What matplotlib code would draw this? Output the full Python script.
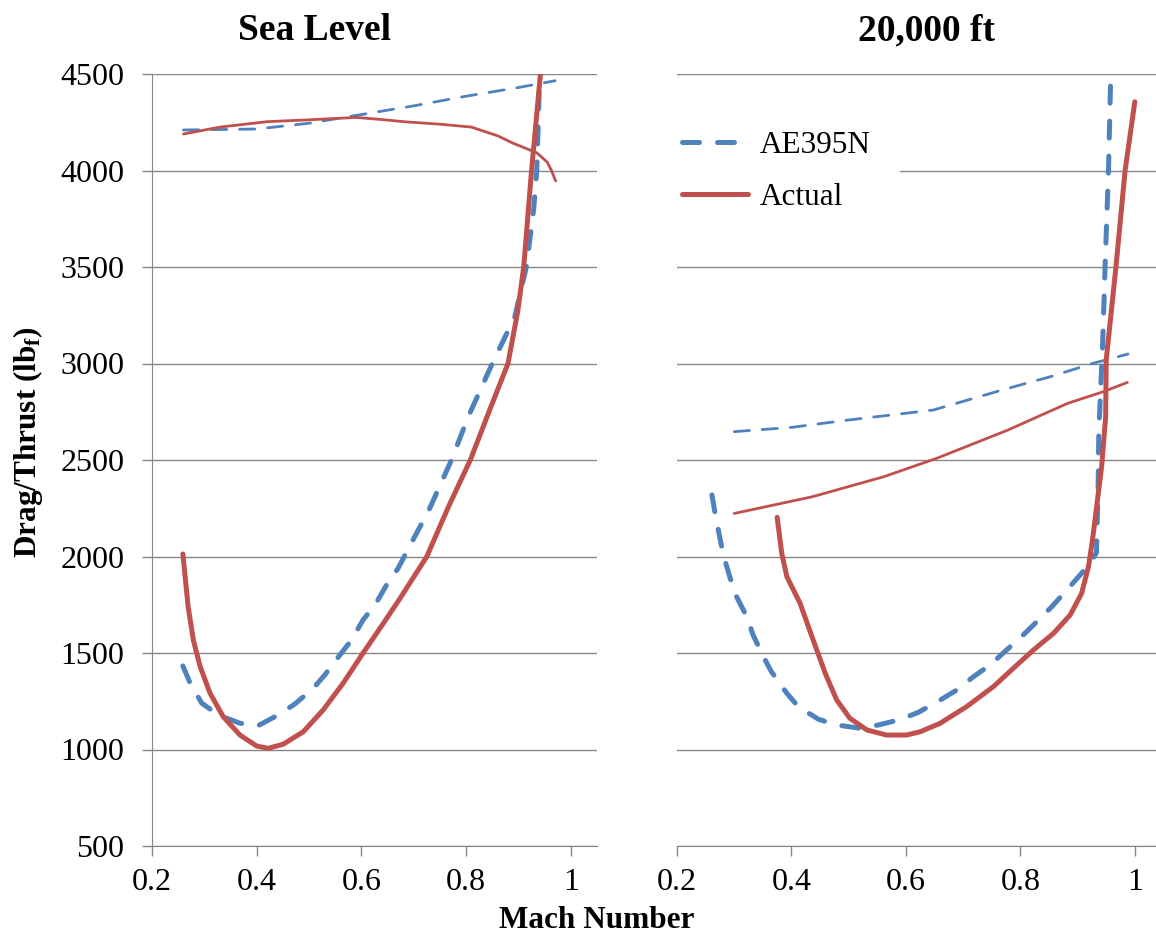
import numpy as np
import matplotlib
matplotlib.use("Agg")
import matplotlib.pyplot as plt
from matplotlib.lines import Line2D

plt.rcParams['font.family'] = 'Liberation Serif'
plt.rcParams['mathtext.fontset'] = 'custom'
plt.rcParams['mathtext.rm'] = 'Liberation Serif'
plt.rcParams['mathtext.bf'] = 'Liberation Serif:bold'
plt.rcParams['mathtext.it'] = 'Liberation Serif:italic'

BLUE = '#4F81BD'
RED = '#C0504D'
GRID = '#868686'

# ---- Sea Level ----
sl_thrust_ae_m = [0.26, 0.40, 0.50, 0.60, 0.70, 0.80, 0.90, 0.97]
sl_thrust_ae = [4210, 4215, 4245, 4290, 4335, 4385, 4430, 4465]

sl_thrust_act_m = [0.26, 0.33, 0.42, 0.495, 0.59, 0.635, 0.68, 0.75, 0.81, 0.86,
                   0.89, 0.935, 0.955, 0.963, 0.971]
sl_thrust_act = [4189, 4225, 4253, 4262, 4275, 4265, 4253, 4240, 4225, 4180,
                 4141, 4092, 4043, 4000, 3946]

sl_drag_ae_m = [0.259, 0.273, 0.295, 0.327, 0.368, 0.403, 0.441, 0.473, 0.508,
                0.530, 0.559, 0.581, 0.603, 0.626, 0.648, 0.670, 0.695, 0.729,
                0.772, 0.804, 0.850, 0.893, 0.915, 0.929, 0.935, 0.940]
sl_drag_ae = [1433, 1343, 1240, 1179, 1136, 1124, 1179, 1236, 1317,
              1386, 1490, 1567, 1671, 1749, 1852, 1939, 2068, 2241,
              2500, 2724, 3000, 3242, 3500, 3798, 4000, 4450]

sl_drag_act_m = [0.259, 0.269, 0.279, 0.292, 0.311, 0.336, 0.368, 0.400, 0.422,
                 0.451, 0.489, 0.527, 0.565, 0.603, 0.642, 0.674, 0.725, 0.765,
                 0.808, 0.845, 0.880, 0.899, 0.910, 0.925, 0.943]
sl_drag_act = [2013, 1740, 1567, 1429, 1291, 1170, 1075, 1018, 1006,
               1028, 1092, 1205, 1343, 1499, 1654, 1784, 2000, 2250,
               2500, 2759, 3000, 3277, 3500, 4000, 4530]

# ---- 20,000 ft ----
ft_thrust_ae_m = [0.300, 0.400, 0.499, 0.648, 0.778, 0.853, 0.927, 0.988]
ft_thrust_ae = [2647, 2669, 2707, 2759, 2871, 2932, 3001, 3049]

ft_thrust_act_m = [0.300, 0.437, 0.561, 0.654, 0.778, 0.883, 0.945, 0.987]
ft_thrust_act = [2223, 2310, 2413, 2509, 2655, 2794, 2854, 2902]

ft_drag_ae_m = [0.261, 0.266, 0.275, 0.281, 0.293, 0.304, 0.322, 0.333, 0.351,
                0.365, 0.392, 0.412, 0.447, 0.479, 0.520, 0.552, 0.590, 0.622,
                0.657, 0.686, 0.718, 0.747, 0.776, 0.802, 0.829, 0.855, 0.881,
                0.907, 0.925, 0.933, 0.936, 0.937, 0.944, 0.948, 0.954, 0.958,
                0.960]
ft_drag_ae = [2319, 2233, 2095, 2008, 1887, 1792, 1688, 1593, 1481,
              1403, 1291, 1222, 1157, 1127, 1110, 1127, 1155, 1193,
              1251, 1303, 1377, 1438, 1516, 1585, 1663, 1740, 1826,
              1913, 1982, 2020, 2380, 2638, 3122, 3502, 4003, 4504,
              4600]

ft_drag_act_m = [0.375, 0.383, 0.392, 0.415, 0.438, 0.459, 0.479, 0.502, 0.532,
                 0.566, 0.601, 0.625, 0.660, 0.706, 0.753, 0.794, 0.823, 0.858,
                 0.887, 0.907, 0.919, 0.926, 0.935, 0.942, 0.949, 0.950, 0.967,
                 0.983, 1.000]
ft_drag_act = [2203, 2017, 1895, 1758, 1567, 1395, 1257, 1162, 1101,
               1075, 1075, 1092, 1136, 1222, 1326, 1438, 1516, 1602,
               1697, 1809, 1947, 2085, 2300, 2465, 2724, 3018, 3500,
               4000, 4356]

xticks = [0.2, 0.4, 0.6, 0.8, 1.0]
xtick_labels = ['0.2', '0.4', '0.6', '0.8', '1']
yticks = [500, 1000, 1500, 2000, 2500, 3000, 3500, 4000, 4500]

W, H = 1156, 935
fig = plt.figure(figsize=(W / 100, H / 100), dpi=100)

def fx(px):
    return px / W

def fy(py):
    return 1 - py / H

ax1 = fig.add_axes([fx(152), fy(846), (597 - 152) / W, (846 - 74) / H])
ax2 = fig.add_axes([fx(677), fy(846), (1156 - 677) / W, (846 - 74) / H])

thin_dash = dict(color=BLUE, lw=2.0, dashes=(5.5, 4.6), dash_capstyle='round')
thick_dash = dict(color=BLUE, lw=3.6, dashes=(3.4, 3.6), dash_capstyle='round')
thin_solid = dict(color=RED, lw=2.0, solid_capstyle='round')
thick_solid = dict(color=RED, lw=3.6, solid_capstyle='round')

ax1.plot(sl_thrust_ae_m, sl_thrust_ae, **thin_dash)
ax1.plot(sl_thrust_act_m, sl_thrust_act, **thin_solid)
ax1.plot(sl_drag_ae_m, sl_drag_ae, **thick_dash)
ax1.plot(sl_drag_act_m, sl_drag_act, **thick_solid)

ax2.plot(ft_thrust_ae_m, ft_thrust_ae, **thin_dash)
ax2.plot(ft_thrust_act_m, ft_thrust_act, **thin_solid)
ax2.plot(ft_drag_ae_m, ft_drag_ae, **thick_dash)
ax2.plot(ft_drag_act_m, ft_drag_act, **thick_solid)

for ax, xmax in ((ax1, 1.05), (ax2, 1.037)):
    ax.set_xlim(0.2, xmax)
    ax.set_ylim(500, 4500)
    ax.set_xticks(xticks)
    ax.set_xticklabels(xtick_labels)
    ax.set_yticks(yticks)
    ax.grid(axis='y', color=GRID, lw=1.0)
    ax.set_axisbelow(True)
    for s in ('top', 'right'):
        ax.spines[s].set_visible(False)
    ax.spines['bottom'].set_color(GRID)
    ax.spines['left'].set_color(GRID)
    ax.tick_params(axis='x', labelsize=23, length=7, width=1.0, color=GRID, pad=9)
    ax.tick_params(axis='y', labelsize=23, length=7, width=1.0, color=GRID, pad=13)

ax2.spines['left'].set_visible(False)
ax2.tick_params(axis='y', left=False, labelleft=False)

fig.text(fx(315), fy(40), 'Sea Level', fontsize=27, fontweight='bold',
         ha='center', va='baseline')
fig.text(fx(927), fy(40), '20,000 ft', fontsize=27, fontweight='bold',
         ha='center', va='baseline')
fig.text(fx(597), fy(928), 'Mach Number', fontsize=22.5, fontweight='bold',
         ha='center', va='baseline')
fig.text(fx(28), fy(442), r'Drag/Thrust (lb$_\mathbf{f}$)', fontsize=22.5,
         fontweight='bold', rotation=90, ha='center', va='center')

handles = [Line2D([], [], **thick_dash), Line2D([], [], **thick_solid)]
leg = ax2.legend(handles, ['AE395N', 'Actual'], loc='upper left',
                 bbox_to_anchor=(fx(677), fy(224), 223 / W, 98 / H),
                 bbox_transform=fig.transFigure, mode='expand',
                 borderaxespad=0, borderpad=0.16, fontsize=22.5,
                 handlelength=2.1, handletextpad=0.38, labelspacing=0.73,
                 frameon=True, fancybox=False)
leg.get_frame().set_facecolor('white')
leg.get_frame().set_edgecolor('none')
leg.get_frame().set_alpha(1)

fig.savefig('out.png', dpi=100)
